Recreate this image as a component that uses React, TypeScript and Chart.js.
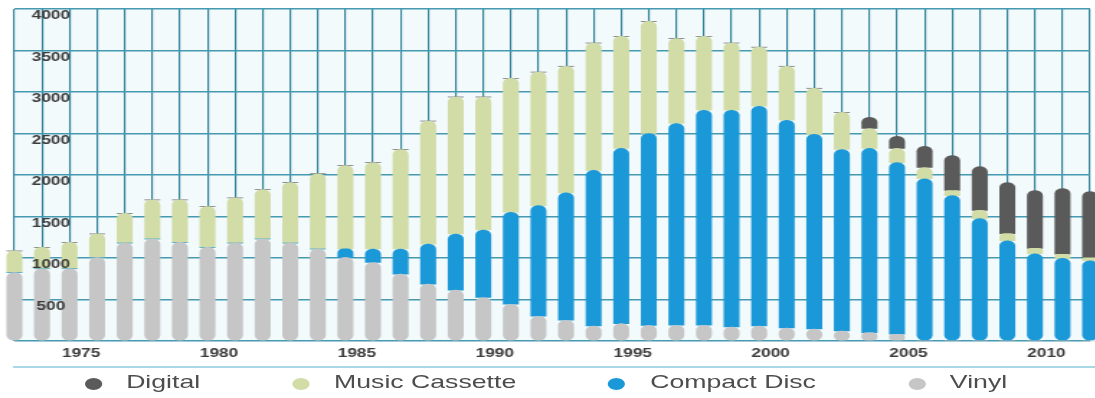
import React, { useEffect, useRef } from 'react';
import { Chart, registerables } from 'chart.js';

Chart.register(...registerables);

// ---- data ----
const years = [
  '1973', '1974', '1975', '1976', '1977', '1978', '1979', '1980', '1981', '1982',
  '1983', '1984', '1985', '1986', '1987', '1988', '1989', '1990', '1991', '1992',
  '1993', '1994', '1995', '1996', '1997', '1998', '1999', '2000', '2001', '2002',
  '2003', '2004', '2005', '2006', '2007', '2008', '2009', '2010', '2011', '2012',
];
const xTickLabels = ['1975', '1980', '1985', '1990', '1995', '2000', '2005', '2010'];
const yTickValues = [500, 1000, 1500, 2000, 2500, 3000, 3500, 4000];

const vinyl = [
  825, 870, 870, 1005, 1180, 1229, 1188, 1128, 1180, 1229,
  1180, 1108, 1007, 946, 806, 685, 612, 524, 443, 298,
  250, 181, 209, 189, 190, 190, 169, 181, 157, 145,
  121, 100, 81, 0, 0, 0, 0, 0, 0, 0,
];
const compactDisc = [
  0, 0, 0, 0, 0, 0, 0, 0, 0, 0,
  0, 0, 103, 162, 302, 483, 677, 813, 1108, 1333,
  1535, 1874, 2111, 2311, 2430, 2590, 2611, 2647, 2503, 2345,
  2186, 2220, 2069, 1955, 1752, 1474, 1208, 1051, 995, 967,
];
const musicCassette = [
  260, 258, 318, 285, 358, 471, 512, 491, 544, 594,
  730, 907, 1005, 1042, 1199, 1482, 1651, 1603, 1614, 1609,
  1525, 1535, 1350, 1350, 1025, 890, 810, 712, 650, 555,
  448, 240, 170, 135, 61, 100, 85, 65, 50, 35,
];
const digital = [
  0, 0, 0, 0, 0, 0, 0, 0, 0, 0,
  0, 0, 0, 0, 0, 0, 0, 0, 0, 0,
  0, 0, 0, 0, 0, 0, 0, 0, 0, 0,
  0, 135, 145, 255, 422, 526, 617, 697, 792, 798,
];

const seriesLabels = ['Vinyl', 'Compact Disc', 'Music Cassette', 'Digital'];
const seriesColors = ['#c6c6c6', '#1b98d7', '#d1dca6', '#5a5a5a'];

// ---- layout / style ----
const STRETCH = 1.44;
const INNER_W = 762;
const H = 398;
const R = 5.2;
const Y_AXIS_W = 10;
const FONT = "'Liberation Sans', Arial, sans-serif";

const decor = {
  id: 'decor',
  beforeDraw(chart: any) {
    const { ctx, chartArea: a } = chart;
    ctx.save();
    ctx.fillStyle = '#f3fafc';
    ctx.fillRect(a.left, a.top, a.right - a.left, a.bottom - a.top);
    ctx.restore();
  },
  afterDraw(chart: any) {
    const { ctx, chartArea: a } = chart;
    const y = a.bottom + 26;
    ctx.save();
    ctx.strokeStyle = '#a9d8e6';
    ctx.lineWidth = 2;
    ctx.beginPath();
    ctx.moveTo(a.left - 1, y);
    ctx.lineTo(chart.width, y);
    ctx.stroke();
    ctx.restore();
  },
};

export default function App() {
  const ref = useRef<HTMLCanvasElement | null>(null);

  useEffect(() => {
    if (!ref.current) return;
    const series = [vinyl, compactDisc, musicCassette, digital];
    const chart = new Chart(ref.current, {
      type: 'bar',
      data: {
        labels: years,
        datasets: series.map((d, i) => ({
          label: seriesLabels[i],
          data: d,
          backgroundColor: seriesColors[i],
          borderWidth: 0,
          borderSkipped: false,
          clip: false,
          barThickness: 10.4,
          borderRadius: (c: any) => {
            let bottom = true;
            for (let k = 0; k < c.datasetIndex; k++) {
              if (c.chart.data.datasets[k].data[c.dataIndex]) bottom = false;
            }
            return {
              topLeft: R,
              topRight: R,
              bottomLeft: bottom ? R : 0,
              bottomRight: bottom ? R : 0,
            };
          },
        })),
      },
      options: {
        animation: false,
        responsive: false,
        maintainAspectRatio: false,
        layout: { padding: { left: 0, right: 0, top: 9, bottom: 32.6 } },
        plugins: {
          legend: { display: false },
          tooltip: { enabled: false },
        },
        scales: {
          x: {
            stacked: true,
            offset: false,
            grid: { offset: false, color: '#2f8299', lineWidth: 1.15, drawTicks: false },
            border: { display: false },
            ticks: {
              autoSkip: false,
              maxRotation: 0,
              padding: 5,
              labelOffset: 8,
              color: '#3c3c3c',
              font: { family: FONT, size: 12, weight: 'bold' },
              callback: (_v: any, i: number) =>
                xTickLabels.includes(years[i]) ? years[i] : '',
            },
          },
          y: {
            stacked: true,
            min: 0,
            max: 4000,
            grid: { color: '#4599b0', lineWidth: 1.6, drawTicks: false },
            border: { display: false },
            afterFit: (s: any) => {
              s.width = Y_AXIS_W;
              s.paddingTop = 0;
              s.paddingBottom = 0;
            },
            ticks: {
              z: 1,
              stepSize: 500,
              mirror: true,
              padding: 12,
              crossAlign: 'center',
              labelOffset: 7,
              color: '#3c3c3c',
              font: { family: FONT, size: 12, weight: 'bold' },
              callback: (v: any) => (yTickValues.includes(Number(v)) ? String(v) : ''),
            },
          },
        },
      },
      plugins: [decor],
    } as any);
    return () => chart.destroy();
  }, []);

  const legendOrder = [3, 2, 1, 0];

  return (
    <div
      style={{
        position: 'fixed',
        left: 0,
        top: 0,
        width: 1095,
        height: H,
        overflow: 'hidden',
        background: '#ffffff',
      }}
    >
      <div
        style={{
          position: 'absolute',
          left: 0,
          top: 0,
          width: INNER_W,
          height: H,
          transform: `scaleX(${STRETCH})`,
          transformOrigin: '0 0',
        }}
      >
        <canvas ref={ref} width={INNER_W} height={H} style={{ display: 'block' }} />
        <div
          style={{
            position: 'absolute',
            left: 58.6,
            top: 372,
            height: 20,
            display: 'flex',
            alignItems: 'center',
            fontFamily: FONT,
            fontSize: 18.5,
            color: '#4d4d4d',
            whiteSpace: 'nowrap',
          }}
        >
          {legendOrder.map((si, k) => (
            <div
              key={seriesLabels[si]}
              style={{
                display: 'flex',
                alignItems: 'center',
                marginRight: k < legendOrder.length - 1 ? 64 : 0,
              }}
            >
              <span
                style={{
                  display: 'inline-block',
                  width: 12,
                  height: 12,
                  borderRadius: '50%',
                  background: seriesColors[si],
                  marginRight: 17,
                  marginTop: 3,
                }}
              />
              <span>{seriesLabels[si]}</span>
            </div>
          ))}
        </div>
      </div>
    </div>
  );
}
